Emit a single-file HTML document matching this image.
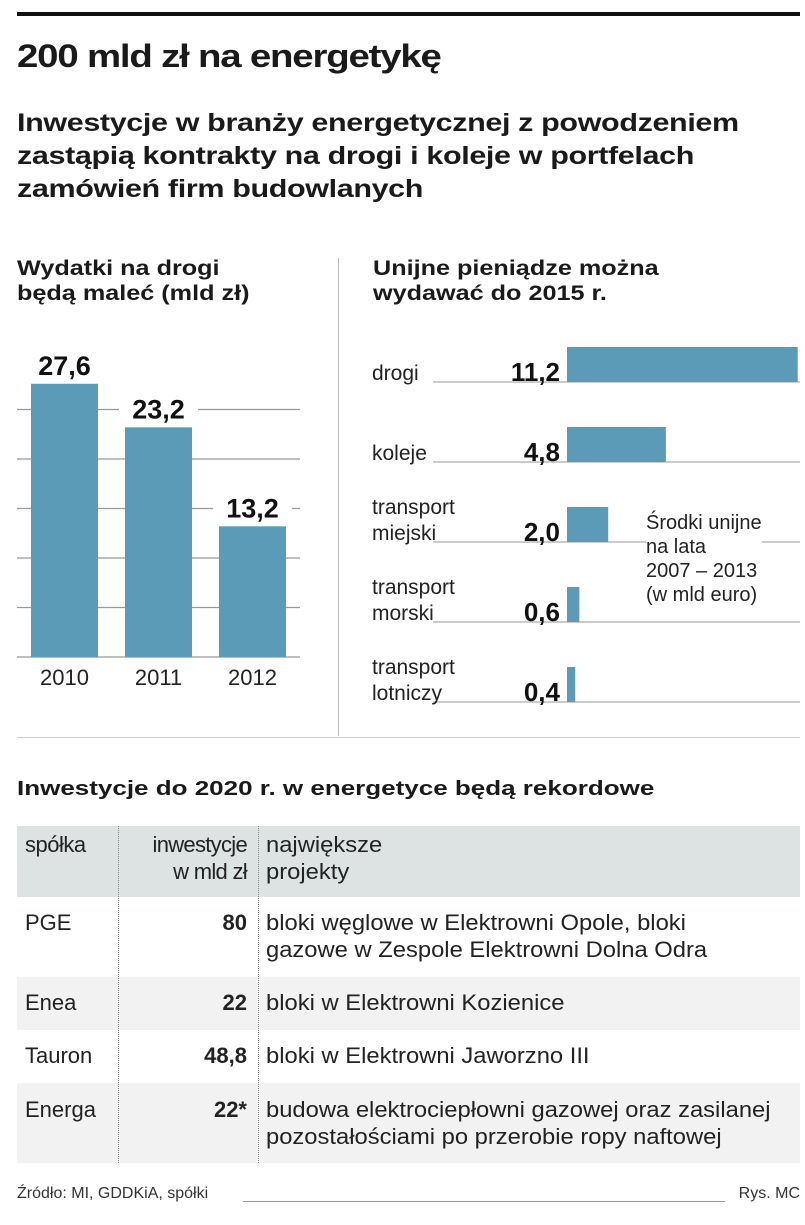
<!DOCTYPE html>
<html><head><meta charset="utf-8"><style>
body{margin:0;width:805px;height:1225px;background:#fff;font-family:"Liberation Sans",sans-serif;color:#1a1a1a;position:relative;overflow:hidden}
.a{position:absolute;white-space:nowrap}
.b{font-weight:bold}
.w{transform-origin:0 0}
.p{transform-origin:0 0;transform:scaleX(1.08)}
</style></head><body>
<div class="a" style="left:17px;top:12px;width:783px;height:4px;background:#111"></div>
<div class="a b w" style="left:17px;top:38px;font-size:32px;letter-spacing:-1px;transform:scaleX(1.2)">200 mld zł na energetykę</div>
<div class="a b w" style="left:17px;top:107px;font-size:25px;line-height:33px;letter-spacing:-0.3px;transform:scaleX(1.22)">Inwestycje w branży energetycznej z powodzeniem<br>zastąpią kontrakty na drogi i koleje w portfelach<br>zamówień firm budowlanych</div>
<div class="a b w" style="left:17px;top:256px;font-size:21px;line-height:25px;transform:scaleX(1.2)">Wydatki na drogi<br>będą maleć (mld zł)</div>
<div class="a b w" style="left:373px;top:256px;font-size:21px;line-height:25px;transform:scaleX(1.2)">Unijne pieniądze można<br>wydawać do 2015 r.</div>
<div class="a" style="left:338px;top:258px;width:1px;height:478px;background:#bbb"></div>
<div class="a" style="left:17px;top:737px;width:783px;height:1px;background:#ccc"></div>
<svg class="a" id="c1" style="left:0;top:330px" width="338" height="380"></svg>
<svg class="a" id="c2" style="left:338px;top:330px" width="467" height="400"></svg>
<div class="a" style="left:646px;top:511px;font-size:20px;line-height:24px;color:#222;background:#fff">Środki unijne<br>na lata<br>2007 – 2013<br>(w mld euro)</div>
<div class="a b w" style="left:17px;top:778px;font-size:20px;transform:scaleX(1.3)">Inwestycje do 2020 r. w energetyce będą rekordowe</div>
<div class="a" style="left:17px;top:826px;width:783px;height:71px;background:#dde2e2"></div>
<div class="a" style="left:17px;top:977px;width:783px;height:53px;background:#f2f2f2"></div>
<div class="a" style="left:17px;top:1083px;width:783px;height:80px;background:#f2f2f2"></div>
<div class="a" style="left:118px;top:826px;height:337px;border-left:1px dotted #888"></div>
<div class="a" style="left:258px;top:826px;height:337px;border-left:1px dotted #888"></div>
<div style="font-size:22px;line-height:27px;color:#222">
<div class="a" style="left:25px;top:831px;letter-spacing:-0.5px">spółka</div>
<div class="a" style="right:558px;top:831px;text-align:right;letter-spacing:-0.7px">inwestycje<br>w mld zł</div>
<div class="a p" style="left:266px;top:831px">największe<br>projekty</div>
<div class="a" style="left:25px;top:909px">PGE</div>
<div class="a b" style="right:558px;top:909px">80</div>
<div class="a p" style="left:266px;top:909px">bloki węglowe w Elektrowni Opole, bloki<br>gazowe w Zespole Elektrowni Dolna Odra</div>
<div class="a" style="left:25px;top:989px">Enea</div>
<div class="a b" style="right:558px;top:989px">22</div>
<div class="a p" style="left:266px;top:989px">bloki w Elektrowni Kozienice</div>
<div class="a" style="left:25px;top:1042px">Tauron</div>
<div class="a b" style="right:558px;top:1042px">48,8</div>
<div class="a p" style="left:266px;top:1042px">bloki w Elektrowni Jaworzno III</div>
<div class="a" style="left:25px;top:1096px">Energa</div>
<div class="a b" style="right:558px;top:1096px">22*</div>
<div class="a p" style="left:266px;top:1096px">budowa elektrociepłowni gazowej oraz zasilanej<br>pozostałościami po przerobie ropy naftowej</div>
</div>
<div class="a" style="left:17px;top:1185px;font-size:16px;color:#333">Źródło: MI, GDDKiA, spółki</div>
<div class="a" style="left:243px;top:1201px;width:482px;height:1px;background:#999"></div>
<div class="a" style="right:5px;top:1185px;font-size:16px;color:#333">Rys. MC</div>
<script>
const years=["2010","2011","2012"];
const roadValues=[27.6,23.2,13.2];
const roadLabels=["27,6","23,2","13,2"];
const gridTicks=[0,5,10,15,20,25];
const euCats=[["drogi"],["koleje"],["transport","miejski"],["transport","morski"],["transport","lotniczy"]];
const euValues=[11.2,4.8,2.0,0.6,0.4];
const euLabels=["11,2","4,8","2,0","0,6","0,4"];
const NS="http://www.w3.org/2000/svg";
function mk(p,t,a){const e=document.createElementNS(NS,t);for(const k in a)e.setAttribute(k,a[k]);p.appendChild(e);return e;}
const c1=document.getElementById('c1');
const base=327, ppu=9.9;
const y1=v=>base-v*ppu;
gridTicks.forEach(t=>{const l=mk(c1,'line',{x1:17,x2:300,y1:y1(t),y2:y1(t),stroke:'#999','stroke-width':1.3});

});
const xs=i=>31+i*94;
roadValues.forEach((v,i)=>{
const r=mk(c1,'rect',{x:xs(i),y:y1(v),width:67,height:v*ppu,fill:'#5b9bb8'});


const bg=mk(c1,'rect',{x:xs(i)-6,y:y1(v)-36,width:79,height:30,fill:'#fff'});


const t=mk(c1,'text',{x:xs(i)+33.5,y:y1(v)-9,'text-anchor':'middle','font-size':27,'font-weight':'bold','font-family':'Liberation Sans',fill:'#111'});
t.textContent=roadLabels[i];


const yl=mk(c1,'text',{x:xs(i)+33.5,y:base+28,'text-anchor':'middle','font-size':22,'font-family':'Liberation Sans',fill:'#222'});
yl.textContent=years[i];


});
const c2=document.getElementById('c2');
const x0=229, eppu=20.6;
euValues.forEach((v,i)=>{
const b=52+i*80;
const ln=mk(c2,'line',{x1:95,x2:462,y1:b,y2:b,stroke:'#999','stroke-width':1});


const r=mk(c2,'rect',{x:x0,y:b-35,width:Math.max(v*eppu,4),height:35,fill:'#5b9bb8'});


const t=mk(c2,'text',{x:222,y:b-1,'text-anchor':'end','font-size':26,'font-weight':'bold','font-family':'Liberation Sans',fill:'#111'});
t.textContent=euLabels[i];


euCats[i].forEach((s,j)=>{
const c=mk(c2,'text',{x:34,y:b-2-(euCats[i].length-1-j)*26,'font-size':21,'font-family':'Liberation Sans',fill:'#222'});
c.textContent=s;


});
});
</script>
</body></html>
